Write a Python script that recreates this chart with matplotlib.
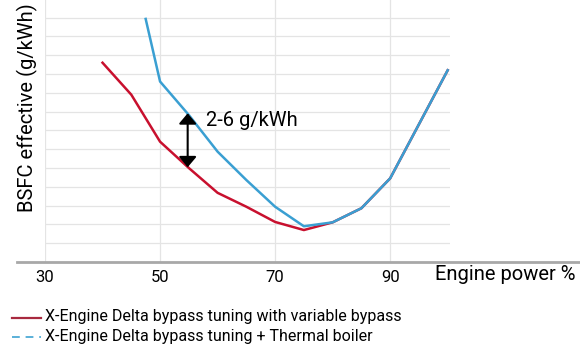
import matplotlib.pyplot as plt
from matplotlib.lines import Line2D

plt.rcParams['font.family'] = ['Roboto', 'DejaVu Sans']

# engine power (%) and BSFC (grid units, no scale shown)
red_x = [40, 45, 50, 55, 60, 65, 70, 75, 80, 85, 90, 100]
red_y = [10.6, 8.9, 6.4, 5.0, 3.68, 2.94, 2.13, 1.70, 2.11, 2.86, 4.45, 10.2]
blue_x = [47.5, 50, 55, 60, 65, 70, 75, 80, 85, 90, 100]
blue_y = [12.93, 9.6, 7.82, 5.87, 4.36, 2.94, 1.9, 2.11, 2.86, 4.45, 10.2]

xticks = [30, 50, 70, 90]
arrow_x = 54.8
arrow_top = 7.91
arrow_bottom = 5.04
gap_label = '2-6 g/kWh'

red = '#c8102e'
blue = '#3a9fd2'

fig = plt.figure(figsize=(5.8, 3.55), dpi=100)
ax = fig.add_axes([45 / 580, 93 / 355, 405 / 580, 262 / 355])

ax.set_xlim(30, 100.4)
ax.set_ylim(0, 262 / 18.8)

for g in range(1, 14):
    ax.axhline(g, color='#e4e4e4', lw=0.9, zorder=0)
for t in xticks:
    ax.axvline(t, color='#e4e4e4', lw=0.9, zorder=0)

ax.plot(red_x, red_y, color=red, lw=1.8, zorder=3)
ax.plot(blue_x, blue_y, color=blue, lw=1.8, zorder=4)

ax.annotate('', xy=(arrow_x, arrow_top), xytext=(arrow_x, arrow_bottom),
            arrowprops=dict(arrowstyle='<|-|>,head_length=0.45,head_width=0.38',
                            color='black', lw=1.5,
                            mutation_scale=14, shrinkA=0, shrinkB=0), zorder=5)
ax.text(57.9, 7.55, gap_label, fontsize=14.5, va='center', ha='left')

for s in ax.spines.values():
    s.set_visible(False)
ax.set_yticks([])
ax.set_xticks(xticks)
ax.tick_params(axis='x', length=0, pad=6, labelsize=12)

# bottom axis line extends past the plot area
fig.add_artist(Line2D([17 / 580, 1], [93 / 355, 93 / 355], color='#a8a8a8', lw=2))

fig.text(435 / 580, 1 - 275 / 355, 'Engine power %', fontsize=14.5, va='center', ha='left')
fig.text(27 / 580, 1 - 108 / 355, 'BSFC effective (g/kWh)', fontsize=14.5,
         rotation=90, va='center', ha='center')

# legend
fig.add_artist(Line2D([12 / 580, 41 / 580], [1 - 318 / 355, 1 - 318 / 355], color='#a8293f', lw=1.6))
fig.add_artist(Line2D([12 / 580, 41 / 580], [1 - 337 / 355, 1 - 337 / 355], color='#5ab0d8',
                      lw=1.4, ls=(0, (4, 3))))
fig.text(45 / 580, 1 - 316 / 355, 'X-Engine Delta bypass tuning with variable bypass',
         fontsize=11.5, va='center', ha='left')
fig.text(45 / 580, 1 - 337 / 355, 'X-Engine Delta bypass tuning + Thermal boiler',
         fontsize=11.5, va='center', ha='left')

fig.savefig('out.png', dpi=100)
